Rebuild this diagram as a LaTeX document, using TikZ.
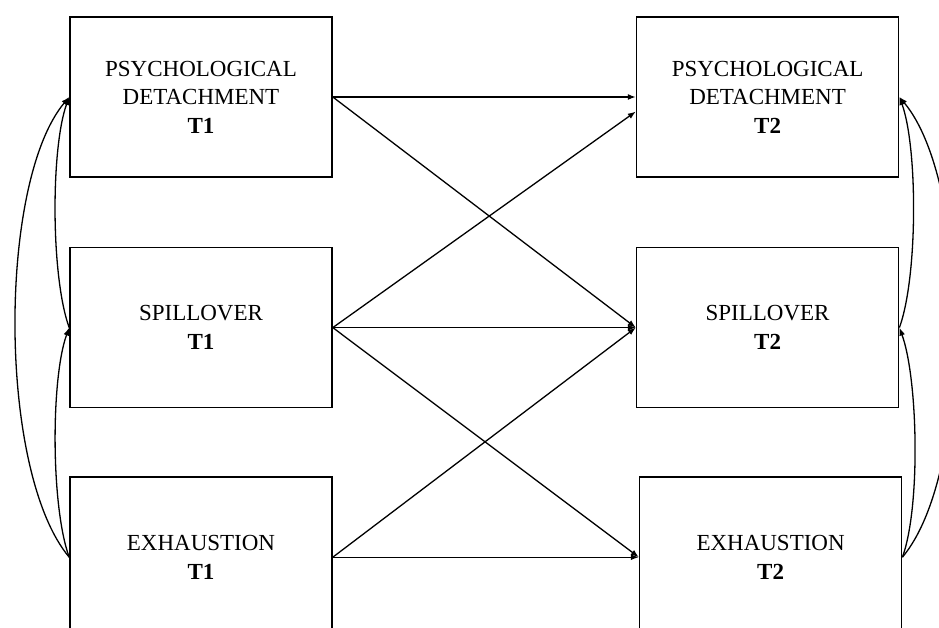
\documentclass[tikz,border=0pt]{standalone}
\usepackage{fontspec}
\setmainfont{Liberation Serif}
\usetikzlibrary{arrows.meta,calc,positioning}

\begin{document}
\begin{tikzpicture}[
    x=1pt, y=1pt,
    block/.style={rectangle, draw, line width=1.6pt, minimum width=262pt, minimum height=160pt,
        align=center, font=\fontsize{23}{28.5}\selectfont},
    line/.style={draw, line width=1.3pt, -{Latex[length=8pt,width=6pt]}},
    thin line/.style={line, line width=0.8pt},
]

\useasboundingbox (0,0) rectangle (939,-628);

% Blocks
\node[block] (pd1) at (201,-97) {PSYCHOLOGICAL\\DETACHMENT\\\textbf{T1}};
\node[block, below=69pt of pd1] (sp1) {SPILLOVER\\\textbf{T1}};
\node[block, below=68pt of sp1] (ex1) {EXHAUSTION\\\textbf{T1}};
\node[block, right=303pt of pd1] (pd2) {PSYCHOLOGICAL\\DETACHMENT\\\textbf{T2}};
\node[block, right=303pt of sp1] (sp2) {SPILLOVER\\\textbf{T2}};
\node[block, right=306pt of ex1] (ex2) {EXHAUSTION\\\textbf{T2}};

% Lines
\draw[line] (pd1.east) -- (pd2.west);
\draw[line] (pd1.east) -- (sp2.west);
\draw[line] (sp1.east) -- ($(pd2.west)!0.18!(pd2.south west)$);
\draw[thin line] (sp1.east) -- (sp2.west);
\draw[line] (sp1.east) -- (ex2.west);
\draw[line] (ex1.east) -- (sp2.west);
\draw[line] (ex1.east) -- (ex2.west);

% Correlations
\draw[line] (sp1.west) to[out=110, in=-110, looseness=0.6] (pd1.west);
\draw[line] (ex1.west) to[out=110, in=-110, looseness=0.6] (sp1.west);
\draw[line] (ex1.west) to[out=130, in=-130, looseness=0.62] (pd1.west);
\draw[line] (sp2.east) to[out=70, in=-70, looseness=0.6] (pd2.east);
\draw[line] (ex2.east) to[out=70, in=-70, looseness=0.6] (sp2.east);
\draw[line] (ex2.east) to[out=50, in=-50, looseness=0.62] (pd2.east);

\end{tikzpicture}
\end{document}
